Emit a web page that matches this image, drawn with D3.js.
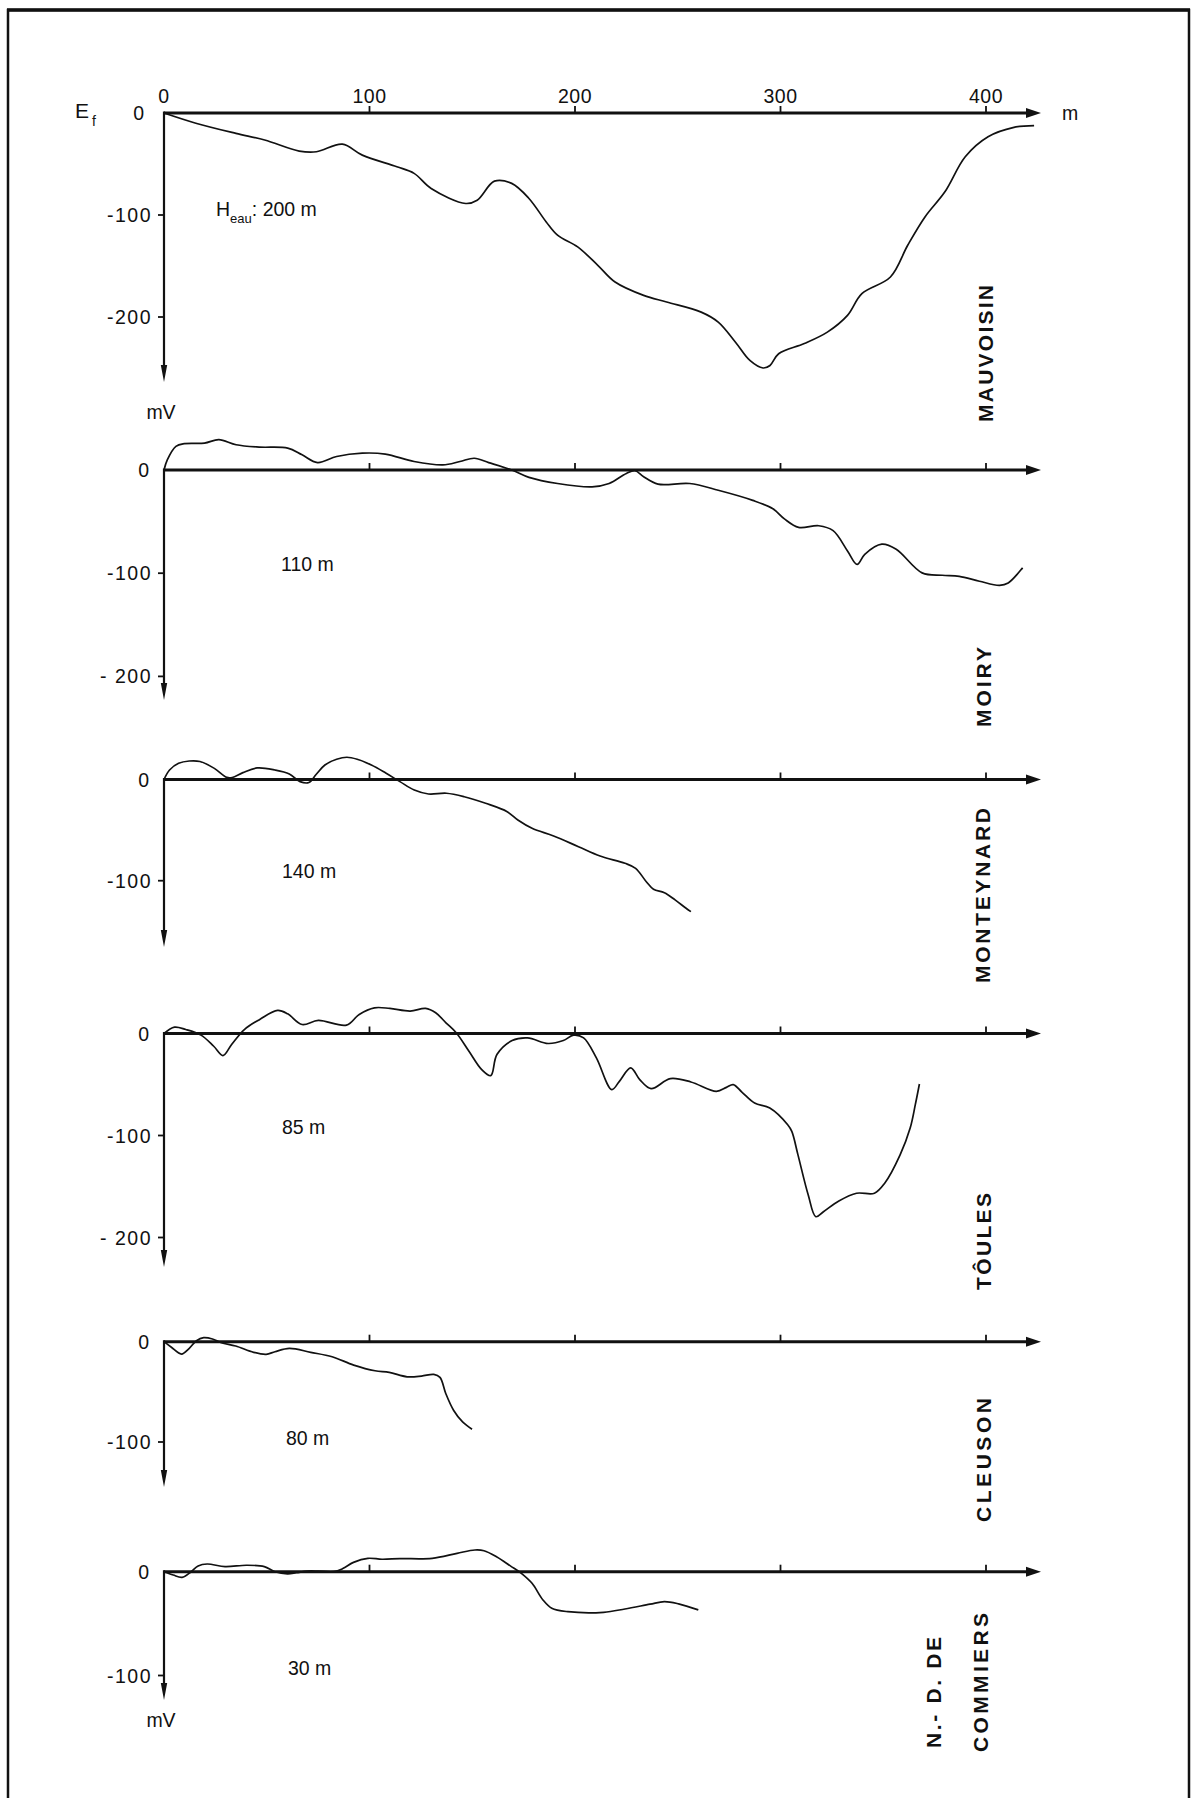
<!DOCTYPE html>
<html><head><meta charset="utf-8">
<script src="https://cdn.jsdelivr.net/npm/d3@7"></script>
<style>body{margin:0;background:#fff}</style>
</head><body>
<svg id="c" width="1197" height="1798"></svg>
<script>
// ---------- data ----------
const dams = ["MAUVOISIN", "MOIRY", "MONTEYNARD", "TÔULES", "CLEUSON", "N.- D. DE|COMMIERS"];
const waterHeights = ["200 m", "110 m", "140 m", "85 m", "80 m", "30 m"];
const xTicks = [0, 100, 200, 300, 400];
const xTickLabels = ["0", "100", "200", "300", "400"];
const yTicks = [[-100, -200], [-100, -200], [-100], [-100, -200], [-100], [-100]];
const yTickLabels = [["-100", "-200"], ["-100", "- 200"], ["-100"], ["-100", "- 200"], ["-100"], ["-100"]];

const mauvoisin = [[0,0],[15.5,-10],[35,-20],[49,-26.5],[65.8,-37.3],[74.2,-38],[86.8,-30.5],[96.5,-41.3],[113.3,-52.7],[121.7,-59.2],[130,-74],[146.8,-88.7],[152.4,-85.5],[160.8,-66.8],[169.2,-69],[177.6,-83.8],[186,-106.8],[191.5,-119.8],[201.3,-131.3],[211.1,-149.3],[219.5,-165.7],[233.4,-178.8],[244.6,-185.3],[261.4,-195.2],[269.7,-205],[278.1,-224.7],[285.1,-242.6],[291.5,-250],[294.9,-247.5],[299.1,-236],[311.6,-226],[322.8,-214.8],[332.6,-198.4],[339.6,-177.1],[353.5,-160.8],[361.9,-129.7],[370.3,-101.9],[380,-77.3],[389.9,-42.9],[401,-23.3],[413.6,-14.1],[423.4,-12.4]];
const moiry = [[0,0],[1.6,9.8],[5.8,22.9],[9.9,25.5],[19.7,26.1],[26.7,29.4],[35.1,24.5],[46.3,22.2],[60.2,21.2],[67.2,14.7],[74.7,7.2],[84,13.1],[96.5,16.3],[107.7,15.4],[121.7,8.2],[135.7,4.9],[144,8.2],[151,11.4],[158,7.2],[169.2,0],[177.6,-7.2],[191.5,-13.1],[208.3,-16.3],[216.6,-13.1],[225,-3.3],[229.2,-0.7],[233.4,-6.5],[240.4,-13.7],[255.8,-13.1],[269.7,-19.6],[286.5,-29.4],[296.3,-37.6],[301.9,-47.4],[308.8,-55.6],[318.6,-54],[325.6,-58.8],[332.6,-78.4],[337.3,-91.5],[341,-81.7],[349.3,-71.9],[356.3,-76.8],[368.9,-99.7],[378.7,-102],[387,-103],[396.8,-107.8],[406.6,-111.8],[410.8,-109.5],[417.8,-94.8]];
const monteynard = [[0,0],[2.7,9.4],[7.1,16],[12.3,18.3],[17.5,17.8],[24.5,11],[30.6,2.1],[33.2,2],[38.4,6.8],[45.3,11.4],[54,9.4],[61,5.5],[66.2,-2.1],[70.5,-3],[74,4.9],[78.3,14.3],[84,20],[89,22],[94,20],[100.9,14.3],[107.9,6.4],[114.8,-2.1],[121.8,-10.4],[128.7,-14.3],[137.4,-13.6],[146.1,-17],[156.5,-23.5],[167,-31.8],[172.2,-40],[179.1,-48.2],[189.6,-55.8],[201.7,-66.4],[212.2,-75.6],[224.3,-82.8],[229.5,-87.8],[234.7,-101],[238.2,-108.5],[243.5,-111.9],[248.7,-119],[253.9,-127],[256.4,-130.6]];
const toules = [[0,0],[5.1,6.2],[10.6,3.9],[18,-1.6],[24.2,-12.5],[28.7,-21.6],[32.9,-10.8],[39.1,3.9],[46.6,13.8],[55.3,22.6],[60.2,19.3],[67.2,8.8],[75.1,12.8],[88.8,8.2],[95,18.7],[102.4,25.2],[109.9,24.6],[119.8,22],[127.3,24.6],[132.2,20.3],[137.2,10.5],[142.2,0.7],[148.4,-17.4],[154.6,-35.4],[159,-41.3],[162,-20.6],[169.4,-6.9],[176.9,-4.3],[186.9,-9.8],[194.3,-6.9],[199.3,-1.6],[204.2,-4.3],[210.4,-23.9],[217.9,-55],[221.6,-46.9],[227.1,-33.7],[231.5,-45.2],[237,-54.1],[246.4,-44.2],[256.4,-47.5],[268.8,-56.7],[273.7,-52.8],[277,-50.1],[281.2,-57.4],[287.4,-68.2],[294.8,-73.1],[303.5,-89.5],[305.5,-96],[308.5,-119],[313.5,-158.3],[317.2,-179.6],[320.9,-174.7],[328.4,-164.2],[337,-156.6],[345.7,-156.6],[350.7,-146.8],[358.2,-119],[363.1,-92.7],[365.6,-69.8],[367.6,-49.5]];
const cleuson = [[0,0],[3.6,-5.6],[8.5,-12.3],[12.3,-6.6],[15.8,1],[19.3,4],[23.6,2.7],[27.9,-1],[34.9,-4.3],[43.6,-10.6],[49.7,-12.6],[54,-10],[61,-6.6],[71.4,-10.6],[81.8,-15],[92.3,-23.3],[102.7,-29],[109.6,-30.6],[118.3,-35],[125.3,-34.3],[131.3,-32.6],[134.3,-35.6],[137.1,-51.6],[140.9,-68.3],[145.3,-80],[149.9,-87.3]];
const commiers = [[0,0],[4.5,-3.2],[8.8,-5.4],[13.2,0],[16.6,5.5],[21,7.4],[29.7,4.9],[40.1,6.2],[48.8,4.9],[54,0],[60.1,-2],[64.4,-1],[69.6,0.6],[74.9,0.6],[82.7,0],[87,3],[92.2,9],[99.2,12.9],[106.1,12],[114.8,12.6],[130.5,12.9],[142.6,17.7],[151.3,20.9],[155.7,20.2],[161.8,14.4],[168.7,5.4],[173.9,-1.6],[179.1,-11.2],[184.4,-27.2],[188.7,-35.2],[196.5,-38.5],[213.9,-39.1],[224.3,-35.9],[236.5,-31.3],[243.5,-28.8],[250.4,-31],[260,-36.8]];
const series = [mauvoisin, moiry, monteynard, toules, cleuson, commiers];

// ---------- layout ----------
const panels = [
  {y0: 113,    y100: 215,    arrow: 382,  label: [422],        labelX: [993], hx: 216, hy: 216},
  {y0: 470,    y100: 573.2,  arrow: 700,  label: [727],        labelX: [991], hx: 281, hy: 571},
  {y0: 779.5,  y100: 880.7,  arrow: 947,  label: [983],        labelX: [990], hx: 282, hy: 878},
  {y0: 1033.5, y100: 1135.5, arrow: 1267, label: [1290],       labelX: [991], hx: 282, hy: 1134},
  {y0: 1341.7, y100: 1442,   arrow: 1487, label: [1522],       labelX: [991], hx: 286, hy: 1445},
  {y0: 1571.7, y100: 1675.5, arrow: 1700, label: [1748, 1752], labelX: [941, 988], hx: 288, hy: 1675}
];
const labelLen = [[137], [80], [175], [97], [124], [111, 139]];

const svg = d3.select("#c");
const x = d3.scaleLinear().domain([0, 400]).range([164, 986]);
const xEnd = 1041;
const tickFont = "'Liberation Sans Narrow','Arial Narrow','Liberation Sans',Arial,sans-serif";
const fs = 19.5;

// frame
svg.append("path").attr("d", "M8,1800 L8,10 L1189,10 L1189,1800")
  .attr("fill", "none").attr("stroke", "#111").attr("stroke-width", 2.5);
svg.append("line").attr("x1", 7).attr("x2", 1190).attr("y1", 10).attr("y2", 10)
  .attr("stroke", "#111").attr("stroke-width", 3.5);

panels.forEach((p, i) => {
  const y = d3.scaleLinear().domain([0, -100]).range([p.y0, p.y100]);
  const g = svg.append("g");

  // x axis
  g.append("line").attr("x1", x(0)).attr("x2", xEnd - 8).attr("y1", y(0)).attr("y2", y(0))
    .attr("stroke", "#111").attr("stroke-width", 3);
  g.append("path").attr("d", `M${xEnd - 15},${y(0) - 5} L${xEnd},${y(0)} L${xEnd - 15},${y(0) + 5} Z`)
    .attr("fill", "#111");
  g.selectAll("line.xt").data(xTicks.slice(1)).join("line").attr("class", "xt")
    .attr("x1", d => x(d)).attr("x2", d => x(d)).attr("y1", y(0) - 7).attr("y2", y(0))
    .attr("stroke", "#111").attr("stroke-width", 1.8);

  // y axis
  g.append("line").attr("x1", x(0)).attr("x2", x(0)).attr("y1", y(0) - 1.5).attr("y2", p.arrow - 10)
    .attr("stroke", "#111").attr("stroke-width", 2.2);
  g.append("path").attr("d", `M${x(0) - 3.2},${p.arrow - 17} L${x(0)},${p.arrow} L${x(0) + 3.2},${p.arrow - 17} Z`)
    .attr("fill", "#111");
  g.selectAll("line.yt").data(yTicks[i]).join("line").attr("class", "yt")
    .attr("x1", x(0) - 6).attr("x2", x(0)).attr("y1", d => y(d)).attr("y2", d => y(d))
    .attr("stroke", "#111").attr("stroke-width", 1.8);
  g.selectAll("text.yl").data(yTicks[i]).join("text").attr("class", "yl")
    .attr("x", x(0) - 12).attr("y", d => y(d) + 7).attr("text-anchor", "end")
    .attr("font-family", tickFont).attr("font-size", fs).attr("letter-spacing", 1.5).attr("fill", "#111")
    .text((d, j) => yTickLabels[i][j]);
  g.append("text").attr("x", i === 0 ? 144 : 149).attr("y", y(0) + 7).attr("text-anchor", "end")
    .attr("font-family", tickFont).attr("font-size", fs).attr("fill", "#111").text("0");

  // curve
  g.append("path").datum(series[i])
    .attr("d", d3.line().x(d => x(d[0])).y(d => y(d[1])).curve(d3.curveCatmullRom.alpha(0.5)))
    .attr("fill", "none").attr("stroke", "#111").attr("stroke-width", 1.7).attr("stroke-linejoin", "round");

  // water height label
  const ht = g.append("text").attr("x", p.hx).attr("y", p.hy)
    .attr("font-family", tickFont).attr("font-size", fs).attr("fill", "#111");
  if (i === 0) {
    ht.append("tspan").text("H");
    ht.append("tspan").attr("font-size", 13).attr("dy", 7).text("eau");
    ht.append("tspan").attr("dy", -7).text(": " + waterHeights[i]);
  } else {
    ht.text(waterHeights[i]);
  }

  // dam name (rotated)
  dams[i].split("|").forEach((name, k) => {
    g.append("text")
      .attr("transform", `translate(${p.labelX[k]},${p.label[k]}) rotate(-90)`)
      .attr("font-family", "'Liberation Sans','DejaVu Sans',sans-serif").attr("font-weight", "bold")
      .attr("font-size", 21).attr("fill", "#111")
      .attr("textLength", labelLen[i][k]).attr("lengthAdjust", "spacing")
      .text(name);
  });
});

// top axis labels (Mauvoisin)
svg.selectAll("text.xl").data(xTicks).join("text").attr("class", "xl")
  .attr("x", d => x(d)).attr("y", 103).attr("text-anchor", "middle")
  .attr("font-family", tickFont).attr("font-size", fs).attr("letter-spacing", 0.5).attr("fill", "#111")
  .text((d, j) => xTickLabels[j]);
svg.append("text").attr("x", 1062).attr("y", 120)
  .attr("font-family", tickFont).attr("font-size", fs).attr("fill", "#111").text("m");
const ef = svg.append("text").attr("x", 75).attr("y", 118)
  .attr("font-family", tickFont).attr("font-size", 21).attr("fill", "#111");
ef.append("tspan").text("E");
ef.append("tspan").attr("font-size", 14).attr("dx", 3).attr("dy", 8).text("f");
svg.append("text").attr("x", 161).attr("y", 419).attr("text-anchor", "middle")
  .attr("font-family", tickFont).attr("font-size", fs).attr("fill", "#111").text("mV");
svg.append("text").attr("x", 161).attr("y", 1727).attr("text-anchor", "middle")
  .attr("font-family", tickFont).attr("font-size", fs).attr("fill", "#111").text("mV");
</script>
</body></html>
